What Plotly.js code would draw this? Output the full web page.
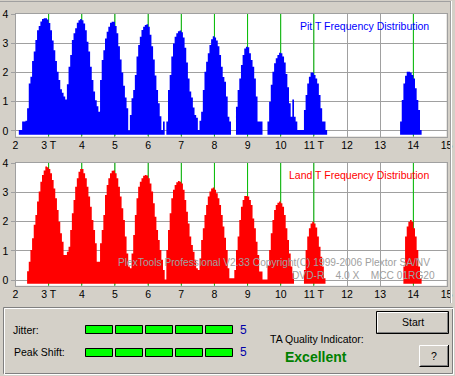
<!DOCTYPE html>
<html>
<head>
<meta charset="utf-8">
<script src="https://cdn.plot.ly/plotly-3.0.1.min.js"></script>
<style>
  html, body { margin: 0; padding: 0; background: #D4D0C8; }
  #chart { width: 455px; height: 376px; }
</style>
</head>
<body>
<div id="chart"></div>
<script>
// ---------------- data ----------------
const binWidth = 0.05;          // T units per histogram bin
const barBase = -0.13;          // bars start slightly below 0

const xTickVals = [2, 3, 4, 5, 6, 7, 8, 9, 10, 11, 12, 13, 14, 15];
const xTickText = ["2", "3 T", "4", "5", "6", "7", "8", "9", "10", "11 T", "12", "13", "14", "15"];
const yTickVals = [0, 1, 2, 3, 4];
const yTickText = ["0", "1", "2", "3", "4"];
const greenMarkT = [3, 4, 5, 6, 7, 8, 9, 10, 11, 14];

// Pit (blue) histogram: first bin T and bin heights for each cluster
const pitStarts = [2.10, 3.55, 4.55, 5.45, 6.55, 7.55, 8.65, 9.60, 10.70, 13.60];
const pit3  = [0.03,0.03,0.32,0.32,0.35,0.78,1.63,1.86,2.4,2.72,3.12,3.45,3.6,3.75,3.84,3.86,3.86,3.82,3.7,3.45,3.1,2.77,2.4,2.03,1.75,1.43,1.31,1.18,1.08];
const pit4  = [1.6,2.2,2.6,3.12,3.35,3.52,3.71,3.8,3.84,3.8,3.68,3.45,3.06,2.72,2.2,1.75,1.35,1.05,0.85,0.66];
const pit5  = [1.75,2.43,2.77,3.17,3.4,3.57,3.71,3.74,3.74,3.6,3.35,2.9,2.45,2.0,1.55,1.15,0.78,0.02];
const pit6  = [0.55,1.12,1.4,1.92,2.55,2.95,3.23,3.46,3.57,3.63,3.66,3.57,3.3,2.9,2.45,1.9,1.4,0.95,0.5,0.03,0.32];
const pit7  = [0.32,1.4,1.92,2.55,3.0,3.23,3.35,3.42,3.44,3.38,3.2,2.85,2.35,1.8,1.35,1.15,0.8,0.55,0.45,0.03];
const pit8  = [0.35,0.66,1.4,2.03,2.37,2.66,2.95,3.14,3.25,3.2,3.1,2.9,2.6,2.2,1.85,1.69,1.18,0.49,0.32];
const pit9  = [0.83,1.4,1.8,2.26,2.6,2.83,2.89,2.87,2.66,2.43,2.2,1.8,1.18,0.32,0.32,0.32];
const pit10 = [0.32,1.0,1.58,2.03,2.32,2.49,2.6,2.68,2.66,2.55,2.35,1.95,1.5,0.95,0.49,1.08,0.49,0.32,0.03,0.03,0.03,0.03];
const pit11 = [0.72,1.23,1.63,1.86,2.0,2.0,1.92,1.8,1.63,1.23,0.78,0.32,0.32,0.03];
const pit14 = [0.32,1.06,1.63,1.89,2.03,2.03,2.0,1.92,1.8,1.46,1.06,0.72,0.03];

// Land (red) histogram
const landStarts = [2.35, 3.55, 4.55, 5.50, 6.55, 7.55, 8.60, 9.60, 10.70, 13.70];
const land3  = [0.3,0.63,1.03,1.43,1.89,2.23,2.69,3.03,3.37,3.6,3.75,3.89,3.86,3.8,3.66,3.43,3.14,2.8,2.4,2.0,1.6,1.31,0.86,0.86];
const land4  = [0.97,1.14,1.71,2.29,2.74,3.2,3.49,3.71,3.8,3.8,3.66,3.49,3.2,2.86,2.51,2.06,1.71,1.26,0.63,0.63];
const land5  = [1.26,1.71,2.23,2.91,3.26,3.49,3.66,3.74,3.75,3.66,3.49,3.2,2.86,2.46,2.06,1.49,0.91,0.46,0.4];
const land6  = [0.91,1.54,2.23,2.8,3.2,3.37,3.49,3.57,3.6,3.58,3.49,3.31,3.03,2.63,2.17,1.71,1.37,1.03,0.69,0.34,0.02];
const land7  = [1.03,1.71,2.29,2.8,3.09,3.26,3.35,3.39,3.37,3.31,3.09,2.74,2.34,1.94,1.49,1.2,0.97,0.69,0.4,0.34];
const land8  = [0.74,1.37,1.77,2.23,2.57,2.86,3.03,3.14,3.17,3.09,2.97,2.8,2.57,2.23,1.83,1.45,1.03,0.4,0.06,0.06,0.06];
const land9  = [0.34,1.03,1.49,2.06,2.51,2.74,2.88,2.88,2.86,2.74,2.57,2.11,1.77,1.31,0.86,0.29,0.29,0.02,0.02,0.02];
const land10 = [0.5,1.03,1.6,2.06,2.4,2.57,2.65,2.69,2.63,2.51,2.23,1.77,1.37,0.91,0.46,0.23];
const land11 = [0.34,1.03,1.49,1.77,1.94,2.0,1.94,1.8,1.49,1.14,0.8,0.46,0.06];
const land14 = [0.46,1.49,1.83,2.0,2.06,2.0,1.77,1.49,1.03,0.46,0.06];

const pitTitle = "Pit T Frequency Distribution";
const landTitle = "Land T Frequency Distribution";
const watermark1 = "PlexTools Professional V2.33 Copyright(C) 1999-2006 Plextor SA/NV";
const watermark2 = "DVD-R    4.0 X    MCC 01RG20";
const jitterLevel = 5;
const peakShiftLevel = 5;
const qualityText = "Excellent";

// ---------------- build ----------------
function buildOutline(starts, peaks) {
  const m = new Map();
  peaks.forEach((arr, i) => {
    const k0 = Math.round(starts[i] / binWidth);
    arr.forEach((v, j) => m.set(k0 + j, v));
  });
  const keys = [...m.keys()];
  const kMin = Math.min(...keys), kMax = Math.max(...keys);
  const xs = [kMin * binWidth], ys = [barBase];
  for (let k = kMin; k <= kMax; k++) {
    xs.push(k * binWidth);
    ys.push(m.has(k) ? m.get(k) : barBase);
  }
  xs.push((kMax + 1) * binWidth); ys.push(barBase);
  return { xs, ys };
}

const pit = buildOutline(pitStarts, [pit3, pit4, pit5, pit6, pit7, pit8, pit9, pit10, pit11, pit14]);
const land = buildOutline(landStarts, [land3, land4, land5, land6, land7, land8, land9, land10, land11, land14]);

const W = 455, H = 376;
const px = x => x / W;
const py = y => 1 - y / H;

const yRangeTop = [-0.19, 4.01];
const yRangeBot = [-0.195, 4.02];

function greenLines(range) {
  const gx = [], gy = [];
  greenMarkT.forEach(t => { gx.push(t, t, null); gy.push(range[0], range[1], null); });
  return { gx, gy };
}
const gTop = greenLines(yRangeTop), gBot = greenLines(yRangeBot);

const traces = [
  { type: 'scatter', x: gTop.gx, y: gTop.gy, xaxis: 'x', yaxis: 'y', mode: 'lines',
    line: { color: '#00C000', width: 1 }, hoverinfo: 'skip', connectgaps: false },
  { type: 'scatter', x: gBot.gx, y: gBot.gy, xaxis: 'x2', yaxis: 'y2', mode: 'lines',
    line: { color: '#00C000', width: 1 }, hoverinfo: 'skip', connectgaps: false },
  { type: 'scatter', x: pit.xs, y: pit.ys, xaxis: 'x', yaxis: 'y', mode: 'lines',
    line: { shape: 'hv', width: 0, color: '#0000FF' }, fill: 'toself', fillcolor: '#0000FF', hoverinfo: 'skip' },
  { type: 'scatter', x: land.xs, y: land.ys, xaxis: 'x2', yaxis: 'y2', mode: 'lines',
    line: { shape: 'hv', width: 0, color: '#FF0000' }, fill: 'toself', fillcolor: '#FF0000', hoverinfo: 'skip' }
];

const font = "Liberation Sans, Arial, sans-serif";
const gridCol = '#A0A0A0';
function xAx(anchor) {
  return { domain: [15.5 / W, 446.5 / W], range: [2, 15], anchor: anchor, tickvals: xTickVals, ticktext: xTickText,
    showgrid: true, gridcolor: gridCol, gridwidth: 1, zeroline: false, showline: true, mirror: true, linecolor: gridCol,
    ticks: '', ticklabelstandoff: -1, tickfont: { family: font, size: 10.5, color: '#000' }, fixedrange: true };
}
function yAx(anchor, top, bottom, range) {
  return { domain: [py(bottom), py(top)], range: range, anchor: anchor, tickvals: yTickVals, ticktext: yTickText,
    showgrid: true, gridcolor: gridCol, gridwidth: 1, zeroline: false, showline: true, mirror: true, linecolor: gridCol,
    ticks: 'outside', ticklen: 4, tickcolor: gridCol, ticklabelstandoff: 0,
    tickfont: { family: font, size: 10.5, color: '#000' }, fixedrange: true };
}

const shapes = [];
function rect(x0, y0, x1, y1, fill, lineCol) {
  shapes.push({ type: 'rect', xref: 'paper', yref: 'paper', x0: px(x0), x1: px(x1), y0: py(y0), y1: py(y1),
    fillcolor: fill || 'rgba(0,0,0,0)', line: { color: lineCol || 'rgba(0,0,0,0)', width: lineCol ? 1 : 0 }, layer: 'above' });
}
function hline(x0, x1, y, col) {
  shapes.push({ type: 'line', xref: 'paper', yref: 'paper', x0: px(x0), x1: px(x1), y0: py(y), y1: py(y), line: { color: col, width: 1 }, layer: 'above' });
}
function vline(x, y0, y1, col) {
  shapes.push({ type: 'line', xref: 'paper', yref: 'paper', x0: px(x), x1: px(x), y0: py(y0), y1: py(y1), line: { color: col, width: 1 }, layer: 'above' });
}
// outer frame lines
hline(0, 451, 1.5, '#A0A0A0');
vline(450.5, 1, 303, '#A0A0A0');
vline(451.5, 1, 303, '#FFFFFF');
// etched group panel
rect(3.5, 307.5, 452.5, 373.5, null, '#808080');
rect(4.5, 308.5, 453.5, 374.5, null, '#FFFFFF');
// indicator boxes
for (let i = 0; i < jitterLevel; i++) rect(85.5 + 30 * i, 325.5, 112.5 + 30 * i, 333.5, '#00FF00', '#000000');
for (let i = 0; i < peakShiftLevel; i++) rect(85.5 + 30 * i, 348.5, 112.5 + 30 * i, 356.5, '#00FF00', '#000000');
// Start button (default button, black frame)
rect(376.5, 311.5, 448.5, 333.5, '#D4D0C8', '#000000');
hline(377.5, 447.5, 312.5, '#FFFFFF');
vline(377.5, 312.5, 332.5, '#FFFFFF');
hline(377.5, 447.5, 332.5, '#808080');
vline(447.5, 312.5, 332.5, '#808080');
// ? button
hline(419.5, 448.5, 345.5, '#FFFFFF');
vline(419.5, 345.5, 367, '#FFFFFF');
hline(419.5, 448.5, 366.5, '#000000');
vline(448.5, 345, 367, '#000000');
hline(420.5, 447.5, 365.5, '#808080');
vline(447.5, 346, 366, '#808080');

const annotations = [];
function txt(text, x, y, opts) {
  annotations.push(Object.assign({ text: text, xref: 'paper', yref: 'paper', x: px(x), y: py(y), showarrow: false,
    xanchor: 'left', yanchor: 'middle', font: { family: font, size: 10.5, color: '#000' } }, opts || {}));
}
txt(pitTitle, 430.5, 26, { xanchor: 'right', font: { family: font, size: 10.5, color: '#0000FF' } });
txt(landTitle, 430.5, 175, { xanchor: 'right', font: { family: font, size: 10.5, color: '#FF0000' } });
txt(watermark1, 432, 262, { xanchor: 'right', font: { family: font, size: 10.2, color: '#A0A0A0' } });
txt(watermark2, 437, 275, { xanchor: 'right', font: { family: font, size: 10.2, color: '#A0A0A0' } });
txt("Jitter:", 11, 330);
txt("Peak Shift:", 12, 352);
txt(String(jitterLevel), 243.5, 330, { xanchor: 'center', font: { family: font, size: 12, color: '#0000A8' } });
txt(String(peakShiftLevel), 243.5, 352, { xanchor: 'center', font: { family: font, size: 12, color: '#0000A8' } });
txt("TA Quality Indicator:", 268, 339);
txt(qualityText, 316, 357, { xanchor: 'center', font: { family: font, size: 14, color: '#008000', weight: 'bold' } });
txt("Start", 412.5, 322, { xanchor: 'center' });
txt("?", 434, 356, { xanchor: 'center' });

const layout = {
  width: W, height: H, margin: { l: 0, r: 0, t: 0, b: 0 },
  paper_bgcolor: '#D4D0C8', plot_bgcolor: '#FFFFFF', showlegend: false,
  xaxis: xAx('y'), yaxis: yAx('x', 14, 136.5, yRangeTop),
  xaxis2: xAx('y2'), yaxis2: yAx('x2', 162.7, 285.7, yRangeBot),
  shapes: shapes, annotations: annotations
};

Plotly.newPlot('chart', traces, layout, { staticPlot: true, displayModeBar: false });
</script>
</body>
</html>
